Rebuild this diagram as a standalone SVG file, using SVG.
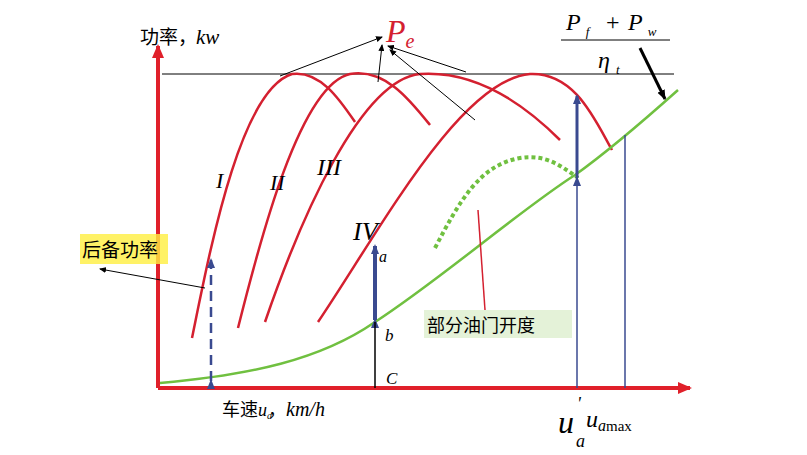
<svg xmlns="http://www.w3.org/2000/svg" width="807" height="455" viewBox="0 0 807 455">
<defs>
<style>
.red{fill:none;stroke:#d42030;stroke-width:2.5}
.ax{stroke:#e0202a;stroke-width:4;fill:none}
.blue{stroke:#3a4a90;fill:none}
.it{font-family:"Liberation Serif",serif;font-style:italic}
.cn{font-family:"Noto Sans CJK SC",sans-serif}
</style>
<marker id="ra" markerWidth="14" markerHeight="12" refX="12" refY="6" orient="auto" markerUnits="userSpaceOnUse"><path d="M0,0L14,6L0,12z" fill="#e0202a"/></marker>
<marker id="ba" markerWidth="10" markerHeight="10" refX="9" refY="5" orient="auto" markerUnits="userSpaceOnUse"><path d="M0,1L10,5L0,9z" fill="#000"/></marker>
<marker id="bl" markerWidth="10" markerHeight="10" refX="8" refY="5" orient="auto" markerUnits="userSpaceOnUse"><path d="M0,1L10,5L0,9z" fill="#3a4a90"/></marker>
<marker id="bs" markerWidth="7" markerHeight="6" refX="6" refY="3" orient="auto" markerUnits="userSpaceOnUse"><path d="M0,0L7,3L0,6z" fill="#000"/></marker>
</defs>
<rect width="807" height="455" fill="#fff"/>
<g id="axes">
<line class="ax" x1="158" y1="388" x2="158" y2="46" marker-end="url(#ra)"/>
<line class="ax" x1="158" y1="388" x2="690" y2="388" marker-end="url(#ra)"/>
<line x1="162" y1="74" x2="674" y2="74" stroke="#000" stroke-width="1"/>
</g>
<g id="curves">
<path class="red" d="M192,338 C210,250 240,90 292,74 C320,70 340,100 355,122"/>
<path class="red" d="M238,328 C260,240 300,85 350,74 C385,68 410,100 430,125"/>
<path class="red" d="M265,322 C300,220 360,80 420,74 C480,70 530,110 560,140"/>
<path class="red" d="M318,322 C380,230 460,80 530,74 C575,72 595,120 612,150"/>
<path d="M160,383 C250,375 320,360 375,322 C440,280 520,210 575,175 C610,150 650,115 678,90" fill="none" stroke="#70c040" stroke-width="2.5"/>
<path d="M435,248 C460,200 480,165 520,158 C545,154 560,165 578,178" fill="none" stroke="#70c040" stroke-width="4" stroke-dasharray="4,3"/>
</g>
<g id="connectors">
<line class="blue" x1="211" y1="381" x2="211" y2="260" stroke-width="2.5" stroke-dasharray="10,6" marker-start="url(#bl)" marker-end="url(#bl)"/>
<line class="blue" x1="375" y1="320" x2="375" y2="246" stroke-width="4" marker-start="url(#bl)" marker-end="url(#bl)"/>
<line class="blue" x1="577" y1="178" x2="577" y2="96" stroke-width="3" marker-start="url(#bl)" marker-end="url(#bl)"/>
<line class="blue" x1="577" y1="178" x2="577" y2="388" stroke-width="1.5"/>
<line class="blue" x1="625" y1="135" x2="625" y2="388" stroke-width="1.5"/>
<line x1="375" y1="322" x2="375" y2="388" stroke="#000" stroke-width="1.5"/>
<g stroke="#000" stroke-width="1" fill="none">
<line x1="280" y1="76" x2="382" y2="37" marker-end="url(#bs)"/>
<line x1="378" y1="82" x2="382" y2="45" marker-end="url(#bs)"/>
<line x1="466" y1="72" x2="388" y2="46" marker-end="url(#bs)"/>
<line x1="475" y1="120" x2="390" y2="50" marker-end="url(#bs)"/>
<line x1="205" y1="288" x2="100" y2="269" marker-end="url(#bs)"/>
</g>
<line x1="640" y1="48" x2="665" y2="99" stroke="#000" stroke-width="3" marker-end="url(#ba)"/>
<line x1="485" y1="310" x2="478" y2="210" stroke="#d42030" stroke-width="1.5"/>
</g>
<g id="labels">
<text x="140" y="44" class="cn" font-size="19">功率，</text>
<text x="196" y="44" class="it" font-size="21">kw</text>
<text x="386" y="42" class="it" font-size="32" fill="#d42030">P<tspan font-size="20" dy="6">e</tspan></text>
<text x="566" y="30" class="it" font-size="24">P<tspan font-size="13" dy="6" dx="5">f</tspan></text>
<text x="606" y="30" font-family="Liberation Serif,serif" font-size="24">+</text>
<text x="628" y="30" class="it" font-size="24">P<tspan font-size="13" dy="6" dx="5">w</tspan></text>
<line x1="561" y1="40" x2="670" y2="40" stroke="#000" stroke-width="1"/>
<text x="598" y="68" class="it" font-size="24">η<tspan font-size="13" dy="6" dx="6">t</tspan></text>
<text x="216" y="188" class="it" font-size="22">I</text>
<text x="270" y="190" class="it" font-size="22">II</text>
<text x="317" y="175" class="it" font-size="24">III</text>
<text x="353" y="240" class="it" font-size="26">IV</text>
<text x="379" y="262" class="it" font-size="16">a</text>
<text x="385" y="341" class="it" font-size="17">b</text>
<text x="386" y="384" class="it" font-size="17">C</text>
<rect x="80" y="234" width="88" height="30" fill="#ffef40" opacity="0.8"/>
<text x="82" y="257" class="cn" font-size="19">后备功率</text>
<rect x="424" y="310" width="148" height="28" fill="#e4f2d8"/>
<text x="427" y="332" class="cn" font-size="18">部分油门开度</text>
<text x="222" y="416" class="cn" font-size="18">车速</text>
<text x="258" y="416" class="it" font-size="18">u<tspan font-size="10" dy="3">a</tspan></text>
<text x="268" y="416" class="cn" font-size="18">，</text>
<text x="286" y="416" class="it" font-size="20">km/h</text>
<text x="558" y="433" class="it" font-size="32">u</text>
<text x="577" y="410" class="it" font-size="18">'</text>
<text x="576" y="447" class="it" font-size="18">a</text>
<text x="586" y="427" class="it" font-size="24">u<tspan font-size="16" dy="4">a</tspan><tspan font-style="normal" font-size="15">max</tspan></text>
</g>
</svg>
